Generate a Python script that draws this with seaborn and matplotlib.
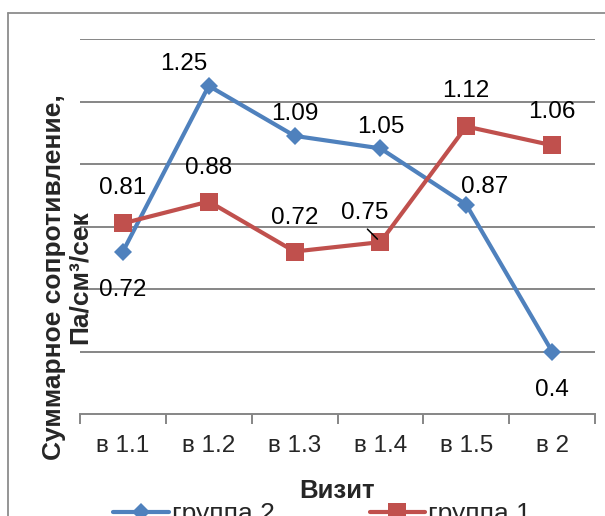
import numpy as np
import pandas as pd
import matplotlib
matplotlib.use("Agg")
import matplotlib.pyplot as plt
from matplotlib.lines import Line2D
import seaborn as sns

visits = ["в 1.1", "в 1.2", "в 1.3", "в 1.4", "в 1.5", "в 2"]
group2 = [0.72, 1.25, 1.09, 1.05, 0.87, 0.4]
group1 = [0.81, 0.88, 0.72, 0.75, 1.12, 1.06]
series_names = ["группа 2", "группа 1"]

BLUE = "#4F81BD"
RED = "#C0504D"
GRID = "#868686"
FS = 17.5

sns.set_theme(style="white")
plt.rcParams["font.family"] = ["Liberation Sans", "DejaVu Sans"]

df = pd.concat([
    pd.DataFrame({"Визит": visits, "value": group2, "series": series_names[0]}),
    pd.DataFrame({"Визит": visits, "value": group1, "series": series_names[1]}),
])

fig = plt.figure(figsize=(6.05, 5.16), dpi=100)
ax = fig.add_axes([80 / 605, 1 - 414 / 516, 515 / 605, 375 / 516])

sns.lineplot(data=df, x="Визит", y="value", hue="series", style="series",
             palette={series_names[0]: BLUE, series_names[1]: RED},
             markers={series_names[0]: "D", series_names[1]: "s"},
             dashes=False, sort=False, linewidth=3.0,
             markersize=9, markeredgewidth=0, legend=False, ax=ax)
for line in ax.get_lines():
    if line.get_marker() == "s":
        line.set_markersize(13.5)
    elif line.get_marker() == "D":
        line.set_markersize(9.5)

ax.set_ylim(0.2, 1.4)
ax.set_xlim(-0.5, 5.5)
ax.set_yticks([0.4, 0.6, 0.8, 1.0, 1.2, 1.4])
ax.yaxis.grid(True, color=GRID, linewidth=1.4)
ax.tick_params(axis="y", left=False, labelleft=False)
ax.set_axisbelow(True)
for s in ["left", "right", "top"]:
    ax.spines[s].set_visible(False)
ax.spines["bottom"].set_color(GRID)
ax.spines["bottom"].set_linewidth(1.4)

ax.set_xticks(np.arange(-0.5, 6, 1))
ax.set_xticklabels([])
ax.tick_params(axis="x", which="major", bottom=True, length=7, width=1.4, color=GRID)
ax.set_xticks(range(len(visits)), minor=True)
ax.set_xticklabels(visits, minor=True, fontsize=FS)
ax.tick_params(axis="x", which="minor", bottom=False, length=0, pad=15)
ax.set_xlabel("Визит", fontsize=18.5, fontweight="bold")
ax.xaxis.set_label_coords(0.5, (413 - 478) / 375)
ax.set_ylabel("")

# data labels (offsets in pixels from each point)
lab_g2 = [(0, -39), (-25, 22), (0, 22), (0, 21), (18, 18), (0, -38)]
lab_g1 = [(0, 35), (0, 33), (0, 33), (-16, 29), (0, 35), (0, 33)]
for i, (v, (dx, dy)) in enumerate(zip(group2, lab_g2)):
    ax.annotate(f"{v:g}", (i, v), xytext=(dx, dy), textcoords="offset pixels",
                ha="center", va="center", fontsize=FS, color="black")
for i, (v, (dx, dy)) in enumerate(zip(group1, lab_g1)):
    ax.annotate(f"{v:g}", (i, v), xytext=(dx, dy), textcoords="offset pixels",
                ha="center", va="center", fontsize=FS, color="black")
# leader line for the 0.75 label
ax.annotate("", xy=(3, 0.75), xytext=(-13, 13), textcoords="offset pixels",
            arrowprops=dict(arrowstyle="-", color="black", lw=1.1, shrinkA=0, shrinkB=3))

fig.text(67 / 605, 1 - 277 / 516, "Суммарное сопротивление,\nПа/см³/сек",
         rotation=90, ha="center", va="center", fontsize=19,
         fontweight="bold", linespacing=1.1, multialignment="center")

handles = [
    Line2D([], [], color=BLUE, marker="D", markersize=9.5, linewidth=3.0, markeredgewidth=0),
    Line2D([], [], color=RED, marker="s", markersize=13.5, linewidth=3.0, markeredgewidth=0),
]
fig.legend(handles, series_names, loc="center", bbox_to_anchor=(322 / 605, 1 - 514 / 516),
           ncol=2, frameon=False, fontsize=19, handlelength=2.1,
           columnspacing=3.6, handletextpad=0.12, borderpad=0, borderaxespad=0)

# outer chart frame
fig.add_artist(Line2D([8 / 605, 8 / 605], [0, 1 - 13 / 516], transform=fig.transFigure,
                      color="#8C8C8C", linewidth=1.3))
fig.add_artist(Line2D([8 / 605, 1], [1 - 13 / 516, 1 - 13 / 516], transform=fig.transFigure,
                      color="#8C8C8C", linewidth=1.3))

fig.savefig("out.png", dpi=100)
